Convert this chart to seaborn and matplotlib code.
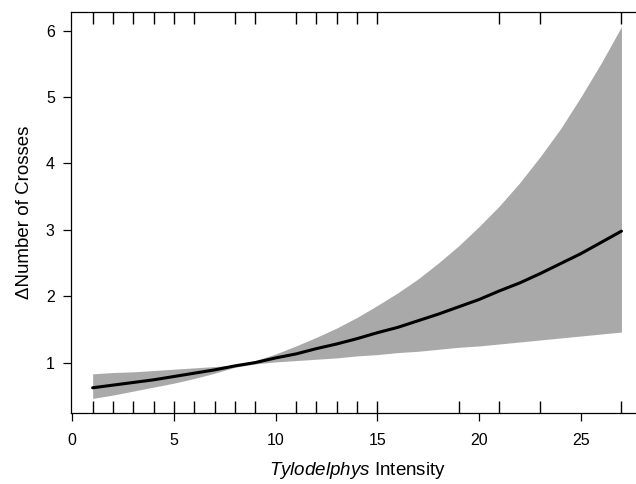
import numpy as np
import pandas as pd
import matplotlib
matplotlib.use('Agg')
import matplotlib.pyplot as plt
import matplotlib.transforms as mtransforms
import seaborn as sns

# fitted curve and 95% band
intensity = list(range(1, 28))
fit = [0.62, 0.66, 0.70, 0.74, 0.79, 0.84, 0.89, 0.95, 1.00, 1.07, 1.13, 1.21,
       1.28, 1.36, 1.45, 1.53, 1.63, 1.73, 1.84, 1.95, 2.08, 2.20, 2.34, 2.49,
       2.64, 2.81, 2.98]
upper = [0.83, 0.85, 0.86, 0.88, 0.90, 0.92, 0.94, 0.96, 1.03, 1.13, 1.25, 1.38,
         1.52, 1.68, 1.86, 2.05, 2.26, 2.50, 2.76, 3.05, 3.36, 3.71, 4.10, 4.52,
         5.00, 5.51, 6.06]
lower = [0.46, 0.51, 0.57, 0.63, 0.69, 0.76, 0.84, 0.93, 0.98, 1.01, 1.03, 1.05,
         1.07, 1.10, 1.12, 1.15, 1.17, 1.20, 1.23, 1.25, 1.28, 1.31, 1.34, 1.37,
         1.40, 1.43, 1.46]

# observed intensities shown as rugs
rug_bottom = [1, 2, 3, 4, 5, 6, 7, 8, 9, 11, 12, 13, 14, 15, 19, 21, 23, 27]
rug_top = [1, 2, 3, 4, 5, 6, 8, 9, 11, 12, 13, 14, 15, 21, 23, 27]

x_ticks = [0, 5, 10, 15, 20, 25]
y_ticks = [1, 2, 3, 4, 5, 6]

df = pd.DataFrame({'intensity': intensity, 'fit': fit,
                   'upper': upper, 'lower': lower})

sns.set_style('ticks')
plt.rcParams['font.family'] = ['Liberation Sans', 'DejaVu Sans']
plt.rcParams['mathtext.fontset'] = 'custom'
plt.rcParams['mathtext.rm'] = 'Liberation Sans'
plt.rcParams['mathtext.it'] = 'Liberation Sans:italic'
plt.rcParams['text.color'] = 'black'
plt.rcParams['axes.labelcolor'] = 'black'
plt.rcParams['xtick.color'] = 'black'
plt.rcParams['ytick.color'] = 'black'

fig = plt.figure(figsize=(6.36, 4.84), dpi=100)
ax = fig.add_axes([0.1124, 0.146, 0.898, 0.829])

ax.fill_between(df['intensity'], df['lower'], df['upper'],
                color='#A9A9A9', linewidth=0)
sns.lineplot(data=df, x='intensity', y='fit', color='black',
             linewidth=2.2, ax=ax)

# rugs: bottom goes up from the axis, top hangs down from the top line
trans = mtransforms.blended_transform_factory(ax.transData, ax.transAxes)
ax.vlines(rug_bottom, 0, 0.03, color='black', linewidth=1.0, transform=trans)
ax.vlines(rug_top, 0.97, 1, color='black', linewidth=1.0, transform=trans)

ax.set_xlim(-0.04, 28.04)
ax.set_ylim(0.235, 6.28)
ax.set_xticks(x_ticks)
ax.set_yticks(y_ticks)
ax.set_xticklabels([str(v) for v in x_ticks])
ax.set_yticklabels([str(v) for v in y_ticks])

ax.tick_params(axis='both', direction='out', length=6, width=0.9,
               labelsize=11.5, color='black', labelcolor='black')
ax.tick_params(axis='x', pad=8)
ax.tick_params(axis='y', pad=6)

for side in ['left', 'bottom', 'top']:
    ax.spines[side].set_linewidth(0.9)
    ax.spines[side].set_color('black')
ax.spines['right'].set_visible(False)

ax.set_xlabel(r'$\it{Tylodelphys}$ Intensity', fontsize=13.5, labelpad=9)
ax.set_ylabel('ΔNumber of Crosses', fontsize=13.5, labelpad=9)

fig.savefig('out.png', dpi=100)
